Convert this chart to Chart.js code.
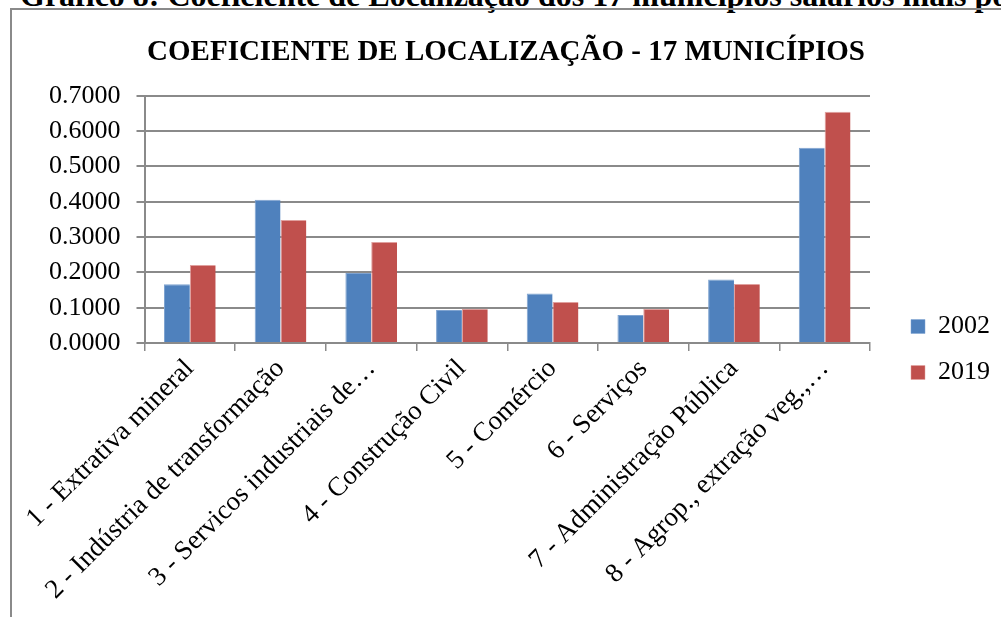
<!DOCTYPE html>
<html>
<head>
<meta charset="utf-8">
<script src="https://cdn.jsdelivr.net/npm/chart.js@4/dist/chart.umd.min.js"></script>
<style>
  body { margin: 0; background: #fff; }
  .wrap { position: relative; width: 1001px; height: 617px; overflow: hidden; }
  .cut-title {
    position: absolute; left: 20px; top: -21px; white-space: nowrap;
    font: bold 32px "Liberation Serif", serif; line-height: 32px; color: #000;
  }
  .frame {
    position: absolute; left: 10px; top: 8px; width: 1100px; height: 700px;
    border: 2px solid #8a8a8a;
  }
  #myChart { position: absolute; left: 0; top: 0; }
</style>
</head>
<body>
<div class="wrap">
  <div class="cut-title">Gráfico 8: Coeficiente de Localização dos 17 municípios salarios mais po</div>
  <div class="frame"></div>
  <canvas id="myChart" width="1001" height="617"></canvas>
</div>
<script>
// data
const categories = ['1 - Extrativa mineral', '2 - Indústria de transformação', '3 - Servicos industriais de…',
    '4 - Construção Civil', '5 - Comércio', '6 - Serviços', '7 - Administração Pública', '8 - Agrop., extração veg.,…'];
const values2002 = [0.1665, 0.4060, 0.1985, 0.0935, 0.1400, 0.0790, 0.1800, 0.5530];
const values2019 = [0.2210, 0.3480, 0.2860, 0.0970, 0.1160, 0.0960, 0.1670, 0.6550];
const yTicks = [0, 0.1, 0.2, 0.3, 0.4, 0.5, 0.6, 0.7];

const serif = '"Liberation Serif", "Times New Roman", serif';
const gridGray = '#8a8a8a';

// nudge legend (excel puts it a bit off the plot)
const legendShift = { dx: 21, dy: 28 };
const legendNudge = {
    id: 'legendNudge',
    afterLayout(chart) {
        const lg = chart.legend;
        lg.left += legendShift.dx;
        lg.right += legendShift.dx;
        lg.top += legendShift.dy;
        lg.bottom += legendShift.dy;
    }
};

const ctx = document.getElementById('myChart');
new Chart(ctx, {
    type: 'bar',
    data: {
        labels: categories,
        datasets: [{
            label: '2002',
            data: values2002,
            backgroundColor: '#4F81BD',
            borderColor: '#7FA3D0',
            borderWidth: { top: 1, left: 1, right: 0, bottom: 0 }
        }, {
            label: '2019',
            data: values2019,
            backgroundColor: '#C0504D',
            borderColor: '#E0A09E',
            borderWidth: { top: 1, left: 1, right: 0, bottom: 0 }
        }]
    },
    plugins: [legendNudge],
    options: {
        responsive: false,
        animation: false,
        categoryPercentage: 0.57,
        barPercentage: 1.0,
        layout: { padding: { left: 33, right: 22, top: 35, bottom: 9 } },
        plugins: {
            title: {
                display: true,
                text: 'COEFICIENTE DE LOCALIZAÇÃO - 17 MUNICÍPIOS',
                color: '#000',
                font: { family: serif, size: 29, weight: 'bold' },
                padding: { top: 0, bottom: 26 }
            },
            legend: {
                position: 'right',
                labels: {
                    color: '#000',
                    font: { family: serif, size: 26 },
                    boxWidth: 14,
                    boxHeight: 14,
                    padding: 20
                }
            },
            tooltip: { enabled: false }
        },
        scales: {
            x: {
                grid: {
                    display: true,
                    drawOnChartArea: false,
                    drawTicks: true,
                    tickLength: 8,
                    color: gridGray,
                    lineWidth: 1.5
                },
                border: { color: gridGray, width: 2 },
                ticks: {
                    color: '#000',
                    font: { family: serif, size: 27 },
                    minRotation: 45,
                    maxRotation: 45,
                    autoSkip: false,
                    padding: 2
                }
            },
            y: {
                min: 0,
                max: 0.7,
                afterBuildTicks: axis => { axis.ticks = yTicks.map(v => ({ value: v })); },
                grid: {
                    color: gridGray,
                    lineWidth: 2,
                    tickLength: 8
                },
                border: { color: gridGray, width: 2 },
                ticks: {
                    color: '#000',
                    font: { family: serif, size: 26 },
                    padding: 16,
                    callback: v => Number(v).toFixed(4)
                }
            }
        }
    }
});
</script>
</body>
</html>
